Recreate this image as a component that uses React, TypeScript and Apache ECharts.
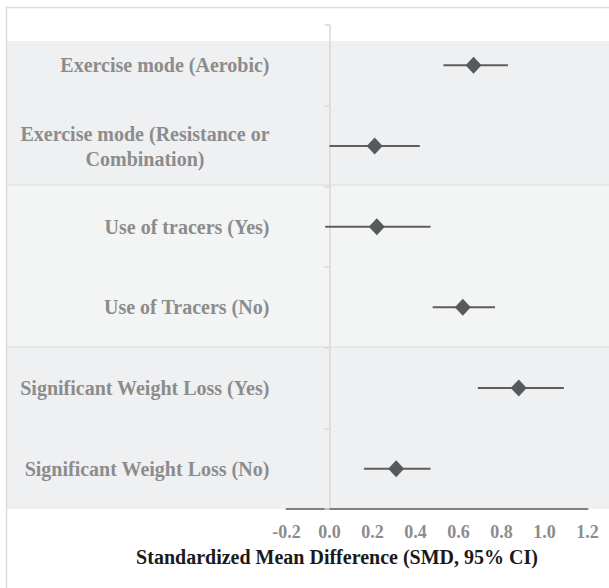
import React, { useEffect, useRef } from "react";
import * as echarts from "echarts";

const categories: string[] = [
  "Exercise mode (Aerobic)",
  "Exercise mode (Resistance or\nCombination)",
  "Use of tracers (Yes)",
  "Use of Tracers (No)",
  "Significant Weight Loss (Yes)",
  "Significant Weight Loss (No)",
];
const smd: number[] = [0.67, 0.21, 0.22, 0.62, 0.88, 0.31];
const ciLow: number[] = [0.53, 0.0, -0.02, 0.48, 0.69, 0.16];
const ciHigh: number[] = [0.83, 0.42, 0.47, 0.77, 1.09, 0.47];
const xTicks = { min: -0.2, max: 1.2, interval: 0.2 };
const xTitle = "Standardized Mean Difference (SMD, 95% CI)";

const FONT = "'Liberation Serif', 'Times New Roman', serif";

export default function App() {
  const ref = useRef<HTMLDivElement>(null);
  useEffect(() => {
    if (!ref.current) return;
    const chart = echarts.init(ref.current, null, { renderer: "svg" });
    const whiskers = categories.map((_, i) => [ciLow[i], ciHigh[i], i]);
    const points = categories.map((_, i) => [smd[i], i]);
    chart.setOption({
      animation: false,
      backgroundColor: "#ffffff",
      grid: {
        left: 286.5,
        right: 21.5,
        top: 25,
        bottom: 79,
        containLabel: false,
        outerBoundsMode: "none",
      },
      xAxis: {
        type: "value",
        min: xTicks.min,
        max: xTicks.max,
        interval: xTicks.interval,
        axisLine: { show: true, lineStyle: { color: "#808080", width: 2 } },
        axisTick: { show: false },
        splitLine: { show: false },
        axisLabel: {
          color: "#8c8c8c",
          fontFamily: FONT,
          fontWeight: "bold",
          fontSize: 18,
          margin: 14,
          formatter: (v: number) => v.toFixed(1),
        },
      },
      yAxis: {
        type: "category",
        data: categories,
        inverse: true,
        axisLine: { show: true, onZero: true, lineStyle: { color: "#d9d9d9", width: 1.5 } },
        axisTick: { show: true, length: 5, lineStyle: { color: "#d9d9d9", width: 1.5 } },
        splitLine: { show: false },
        axisLabel: {
          margin: 17,
          formatter: (v: string) =>
            v
              .split("\n")
              .map((l) => `{c|${l}}`)
              .join("\n"),
          rich: {
            c: {
              align: "center",
              color: "#8c8c8c",
              fontFamily: FONT,
              fontWeight: "bold",
              fontSize: 20,
              lineHeight: 25,
            },
          },
        },
      },
      graphic: [
        {
          type: "rect",
          z: -10,
          shape: { x: 7, y: 41, width: 603, height: 144 },
          style: { fill: "#eff0f2" },
        },
        {
          type: "rect",
          z: -10,
          shape: { x: 7, y: 185, width: 603, height: 162 },
          style: { fill: "#f3f4f4" },
        },
        {
          type: "rect",
          z: -10,
          shape: { x: 7, y: 347, width: 603, height: 162 },
          style: { fill: "#eff0f2" },
        },
        {
          type: "line",
          z: -9,
          shape: { x1: 7, y1: 185, x2: 610, y2: 185 },
          style: { stroke: "#e6e7e9", lineWidth: 2 },
        },
        {
          type: "line",
          z: -9,
          shape: { x1: 7, y1: 347, x2: 610, y2: 347 },
          style: { stroke: "#e6e7e9", lineWidth: 2 },
        },
        {
          type: "rect",
          z: -8,
          shape: { x: 6.5, y: 7.5, width: 610, height: 590 },
          style: { fill: "none", stroke: "#dcdcdc", lineWidth: 1.5 },
        },
        {
          type: "text",
          x: 337,
          y: 557,
          style: {
            text: xTitle,
            fill: "#1a1a1a",
            font: `bold 20px ${FONT}`,
            align: "center",
            verticalAlign: "middle",
          },
        },
      ],
      series: [
        {
          type: "custom",
          data: whiskers,
          encode: { x: [0, 1], y: 2 },
          renderItem: (_params: any, api: any) => {
            const a = api.coord([api.value(0), api.value(2)]);
            const b = api.coord([api.value(1), api.value(2)]);
            return {
              type: "line",
              shape: { x1: a[0], y1: a[1], x2: b[0], y2: b[1] },
              style: { stroke: "#5e5e5e", lineWidth: 2 },
            };
          },
          z: 2,
        },
        {
          type: "scatter",
          data: points,
          symbol: "diamond",
          symbolSize: [16, 17],
          itemStyle: { color: "#58595b", opacity: 1 },
          z: 3,
        },
      ],
    });
    return () => chart.dispose();
  }, []);
  return (
    <div
      ref={ref}
      style={{ position: "absolute", left: 0, top: 0, width: 609, height: 588 }}
    />
  );
}
